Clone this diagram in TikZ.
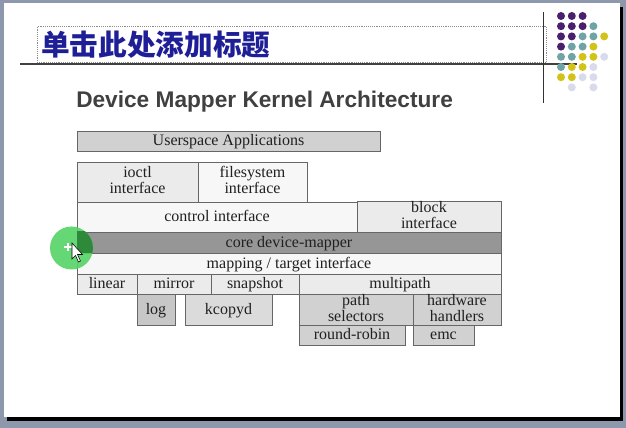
\documentclass[tikz,border=0pt]{standalone}
\usepackage{fontspec}
\setmainfont{Liberation Serif}
\newfontfamily\headfont{Liberation Sans}
\newfontfamily\cjkfont{Noto Sans CJK SC}
\newcommand{\blkstrut}{\rule[-2.6pt]{0pt}{12pt}}

\definecolor{deskgray}{HTML}{8E98AC}
\definecolor{titleblue}{HTML}{1E1E96}
\definecolor{headgray}{HTML}{404040}
\definecolor{boxline}{HTML}{666666}
\definecolor{boxtext}{HTML}{202020}
\definecolor{dotP}{HTML}{4A1F6E}
\definecolor{dotT}{HTML}{6FA3A6}
\definecolor{dotY}{HTML}{D2C318}
\definecolor{dotL}{HTML}{D9DBEC}
\definecolor{hlgreen}{HTML}{55D466}
\definecolor{hldark}{HTML}{2E8A3A}

\tikzset{
  blk/.style = {draw=boxline, line width=0.6pt, inner sep=0pt,
    align=center, text=boxtext,
    font=\fontsize{12}{12}\selectfont,
    execute at begin node=\blkstrut, execute at end node=\blkstrut},
  size/.style 2 args = {minimum width=#1*0.75pt, minimum height=#2*0.75pt},
  userfill/.style = {fill=black!18},
  lightfill/.style = {fill=black!8},
  whitefill/.style = {fill=black!3},
  corefill/.style = {fill=black!41},
  midfill/.style = {fill=black!14}
}

\begin{document}
\begin{tikzpicture}[x=0.75pt, y=-0.75pt]
  \useasboundingbox (0,0) rectangle (626,428);
  % slide on the desktop
  \fill[deskgray] (0,0) rectangle (626,428);
  \fill[black] (7,7) rectangle (623,421);
  \fill[white] (4,3) rectangle (620,417);

  % title area
  \node[draw=black!45, densely dotted, inner sep=0pt,
    size={509}{36}] (titlebox) at (291.5,44) {};
  \node[anchor=west, inner sep=0pt, text=titleblue,
    font=\cjkfont\bfseries\fontsize{21.5}{21.5}\selectfont] (title) at (41,45)
    {单击此处添加标题};
  \draw[line width=1.1pt, black!75] (20,64) -- (577,64);
  \draw[line width=0.7pt, black!80] (543,12) -- (543,103);

  % dot pattern
  \foreach \rowlist [count=\r] in {
      {dotP,dotP,dotP,white,white},
      {dotP,dotP,dotP,dotT,white},
      {dotP,dotP,dotT,dotT,dotY},
      {dotP,dotT,dotT,dotY,white},
      {dotT,dotT,dotY,dotY,dotL},
      {dotT,dotY,dotY,dotL,white},
      {dotY,dotY,dotL,dotL,white},
      {white,dotL,white,dotL,white}} {
    \foreach \col [count=\c] in \rowlist
      \fill[\col] ({561+10.8*(\c-1)},{16+10.2*(\r-1)}) circle (4);
  }

  \node[anchor=base west, inner sep=0pt, text=headgray,
    font=\headfont\bfseries\fontsize{17}{17}\selectfont] (heading)
    at (76,108) {Device Mapper Kernel Architecture};

  % architecture blocks
  \node[blk, userfill, size={303}{20}] (userspace) at (228.5,141) {Userspace Applications};
  \node[blk, lightfill, size={121}{40}] (ioctl) at (137.5,182) {ioctl\\interface};
  \node[blk, whitefill, size={109}{40}] (fsys) at (252.5,182) {filesystem\\interface};
  \node[blk, whitefill, size={280}{30}] (control) at (217,217) {control interface};
  \node[blk, lightfill, size={144}{30}] (blockif) at (429,217) {block\\interface};
  \node[blk, corefill, size={424}{21}] (core) at (289,242.5) {core device-mapper};
  \node[blk, whitefill, size={424}{21}] (mapping) at (289,263.5) {mapping / target interface};
  \node[blk, lightfill, size={60}{20}] (linear) at (107,284) {linear};
  \node[blk, lightfill, size={74}{20}] (mirror) at (174,284) {mirror};
  \node[blk, lightfill, size={88}{20}] (snapshot) at (255,284) {snapshot};
  \node[blk, lightfill, size={202}{20}] (multipath) at (400,284) {multipath};
  \node[blk, fill=black!22, size={38}{31}] (log) at (156,309.5) {log};
  \node[blk, midfill, size={87}{31}] (kcopyd) at (228.5,309.5) {kcopyd};
  \node[blk, userfill, size={114}{31}] (pathsel) at (356,309.5) {path\\selectors};
  \node[blk, userfill, size={88}{31}] (hwhand) at (457,309.5) {hardware\\handlers};
  \node[blk, userfill, size={106}{20}] (rrobin) at (352,335) {round-robin};
  \node[blk, userfill, size={61}{20}] (emc) at (443.5,335) {emc};

  % pointer highlight
  \fill[hlgreen, opacity=0.9] (71.5,248) circle (21.5);
  \begin{scope}
    \clip (77,232) rectangle (501,253);
    \fill[hldark] (71.5,248) circle (21.5);
  \end{scope}
  \draw[white, line width=0.8pt] (64,247) -- (72,247) (68,243) -- (68,251);
  \draw[black, line width=0.4pt, fill=white]
    (72,243) -- (72,259) -- (75.5,255.5) -- (78.5,262) -- (80.5,261)
    -- (77.5,254.5) -- (82.5,254.5) -- cycle;
\end{tikzpicture}
\end{document}
